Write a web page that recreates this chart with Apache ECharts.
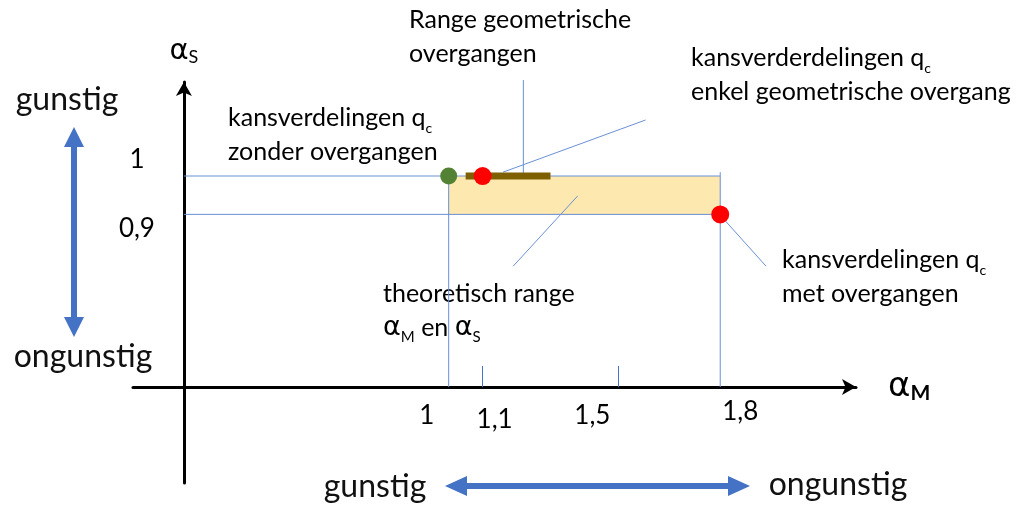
<!DOCTYPE html>
<html>
<head>
<meta charset="utf-8">
<title>alpha_M en alpha_S</title>
<script src="https://cdn.jsdelivr.net/npm/echarts@6/dist/echarts.min.js"></script>
<style>
html, body { margin: 0; padding: 0; background: #fff; }
#chart { width: 1018px; height: 506px; }
</style>
</head>
<body>
<div id="chart"></div>
<script>
// tick values on both axes
const xTicks = [1, 1.1, 1.5, 1.8];
const xInnerTicks = [1.1, 1.5];
const yTicks = [0.9, 1];

// theoretisch range alpha_M en alpha_S
const alphaMRange = [1, 1.8];
const alphaSRange = [0.9, 1];

// range geometrische overgangen (bij alpha_S = 1)
const geomRange = [1.05, 1.3];

// punten
const zonderOvergangen = [[1, 1]];
const enkelGeometrisch = [[1.1, 1]];
const metOvergangen = [[1.8, 0.9]];

// verbindingslijnen naar de teksten
const leaderRange = [[1.22, 1.25], [1.22, 1]];
const leaderEnkel = [[1.16, 1.01], [1.58, 1.146]];
const leaderTheor = [[1.38, 0.948], [1.19, 0.765]];
const leaderMet = [[1.805, 0.893], [1.935, 0.765]];

// schematic axis extents and where the axes cross
const xMin = 0.07, xMax = 2.2, yMin = 0.2, yMax = 1.245;
const crossX = 0.22, crossY = 0.45;

const W = 1018, H = 506;
const gridL = 133, gridR = 162, gridT = 82, gridB = 23;
const gridW = W - gridL - gridR, gridH = H - gridT - gridB;

const blue = '#4472C4';
const thin = '#6A8FD4';
const txt = '#111';
const font = 'Lato';
const greek = 'DejaVu Sans';

const comma = v => String(v).replace('.', ',');

const guides = [
  [[crossX, alphaSRange[1]], [alphaMRange[1], alphaSRange[1]]],
  [[crossX, alphaSRange[0]], [alphaMRange[1], alphaSRange[0]]],
  [[alphaMRange[0], crossY], [alphaMRange[0], alphaSRange[1]]],
  [[alphaMRange[1], crossY], [alphaMRange[1], alphaSRange[1] + 0.01]]
];
const leaders = [leaderRange, leaderEnkel, leaderTheor, leaderMet];

function lineSeries(data, color, width, z) {
  return {
    type: 'line', data: data, symbol: 'none', silent: true, clip: false, z: z,
    lineStyle: { color: color, width: width, cap: 'butt' }
  };
}

function dblArrow(x1, y1, x2, y2, shaft, headW, headL) {
  // double headed arrow polygon, horizontal or vertical
  if (y1 === y2) {
    const y = y1;
    return [[x1, y], [x1 + headL, y - headW / 2], [x1 + headL, y - shaft / 2], [x2 - headL, y - shaft / 2],
      [x2 - headL, y - headW / 2], [x2, y], [x2 - headL, y + headW / 2], [x2 - headL, y + shaft / 2],
      [x1 + headL, y + shaft / 2], [x1 + headL, y + headW / 2]];
  }
  const x = x1;
  return [[x, y1], [x + headW / 2, y1 + headL], [x + shaft / 2, y1 + headL], [x + shaft / 2, y2 - headL],
    [x + headW / 2, y2 - headL], [x, y2], [x - headW / 2, y2 - headL], [x - shaft / 2, y2 - headL],
    [x - shaft / 2, y1 + headL], [x - headW / 2, y1 + headL]];
}

const annRich = {
  t: { fontSize: 25, fontFamily: font, color: txt, lineHeight: 34 },
  s: { fontSize: 14, fontFamily: font, color: txt, lineHeight: 14, verticalAlign: 'bottom' },
  a: { fontSize: 27, fontFamily: greek, color: txt, lineHeight: 34 },
  m: { fontSize: 15, fontFamily: font, color: txt, lineHeight: 14, verticalAlign: 'bottom' }
};

function annotation(x, firstY, text) {
  return {
    type: 'text', x: x, y: firstY - 17, silent: true,
    style: { text: text, rich: annRich, align: 'left', verticalAlign: 'top' }
  };
}

function bigText(cx, cy, text) {
  return {
    type: 'text', x: cx, y: cy, silent: true,
    style: { text: text, fontSize: 32, fontFamily: font, fill: txt, align: 'center', verticalAlign: 'middle' }
  };
}

const chart = echarts.init(document.getElementById('chart'));

chart.setOption({
  animation: false,
  grid: { left: gridL, right: gridR, top: gridT, bottom: gridB, containLabel: false },
  xAxis: {
    type: 'value', min: xMin, max: xMax,
    offset: -((crossY - yMin) / (yMax - yMin)) * gridH,
    name: '{a|α}{m|M}', nameLocation: 'end', nameGap: 32,
    nameTextStyle: {
      rich: {
        a: { fontSize: 34, fontFamily: greek, color: '#000', lineHeight: 34 },
        m: { fontSize: 21, fontFamily: font, fontWeight: 'bold', color: '#000', lineHeight: 18, verticalAlign: 'bottom' }
      }
    },
    axisLine: {
      onZero: false, symbol: ['none', 'arrow'], symbolSize: [12, 14],
      lineStyle: { color: '#000', width: 3 }
    },
    axisTick: { show: true, inside: true, length: 21, customValues: xInnerTicks, lineStyle: { color: blue, width: 1 } },
    axisLabel: {
      customValues: xTicks, margin: 12, color: '#000', fontSize: 26, fontFamily: font,
      formatter: v => {
        const i = xTicks.findIndex(t => Math.abs(t - v) < 1e-9);
        return '{x' + i + '|' + comma(v) + '}';
      },
      rich: {
        x0: { fontSize: 26, fontFamily: font, color: '#000', padding: [4, 44, 0, 0] },
        x1: { fontSize: 26, fontFamily: font, color: '#000', padding: [8, 0, 0, 24] },
        x2: { fontSize: 26, fontFamily: font, color: '#000', padding: [4, 52, 0, 0] },
        x3: { fontSize: 26, fontFamily: font, color: '#000', padding: [0, 0, 0, 40] }
      }
    },
    splitLine: { show: false }
  },
  yAxis: {
    type: 'value', min: yMin, max: yMax,
    offset: -((crossX - xMin) / (xMax - xMin)) * gridW,
    name: '{a|α}{s|S}', nameLocation: 'end', nameGap: 16,
    nameTextStyle: {
      rich: {
        a: { fontSize: 29, fontFamily: greek, color: '#000', lineHeight: 30 },
        s: { fontSize: 18, fontFamily: font, color: '#000', lineHeight: 16, verticalAlign: 'bottom' }
      }
    },
    axisLine: {
      onZero: false, symbol: ['none', 'arrow'], symbolSize: [12, 14],
      lineStyle: { color: '#000', width: 3 }
    },
    axisTick: { show: false },
    axisLabel: {
      customValues: yTicks, margin: 47, align: 'center', color: '#000', fontSize: 26, fontFamily: font,
      formatter: v => (v < 0.95 ? '{y0|' + comma(v) + '}' : '{y1|' + comma(v) + '}'),
      rich: {
        y0: { fontSize: 26, fontFamily: font, color: '#000', padding: [28, 0, 0, 0] },
        y1: { fontSize: 26, fontFamily: font, color: '#000', padding: [0, 0, 32, 0] }
      }
    },
    splitLine: { show: false }
  },
  series: [
    Object.assign(lineSeries(guides[0], thin, 1, 2), {
      markArea: {
        silent: true,
        itemStyle: { color: '#FDE8B0' },
        data: [[{ coord: [alphaMRange[0], alphaSRange[1]] }, { coord: [alphaMRange[1], alphaSRange[0]] }]]
      }
    }),
    lineSeries(guides[1], thin, 1, 2),
    lineSeries(guides[2], thin, 1, 2),
    lineSeries(guides[3], thin, 1, 2),
    ...leaders.map(l => lineSeries(l, thin, 1, 2)),
    {
      type: 'scatter', data: zonderOvergangen, symbolSize: 17, z: 4, silent: true,
      itemStyle: { color: '#548235', opacity: 1 }
    },
    lineSeries([[geomRange[0], 1], [geomRange[1], 1]], '#7F6000', 7, 5),
    {
      type: 'scatter', data: enkelGeometrisch.concat(metOvergangen), symbolSize: 18, z: 6, silent: true,
      itemStyle: { color: '#FF0000', opacity: 1 }
    }
  ],
  graphic: [
    annotation(409, 20, '{t|Range geometrische}\n{t|overgangen}'),
    annotation(691, 58, '{t|kansverderdelingen q}{s|c}\n{t|enkel geometrische overgang}'),
    annotation(228, 118, '{t|kansverdelingen q}{s|c}\n{t|zonder overgangen}'),
    annotation(383, 294, '{t|theoretisch range}\n{a|α}{m|M}{t| en }{a|α}{m|S}'),
    annotation(782, 260, '{t|kansverdelingen q}{s|c}\n{t|met overgangen}'),
    bigText(67, 100, 'gunstig'),
    bigText(83, 357, 'ongunstig'),
    bigText(375, 487, 'gunstig'),
    bigText(838, 485, 'ongunstig'),
    { type: 'polygon', silent: true, shape: { points: dblArrow(74, 127, 74, 337, 6, 20, 20) }, style: { fill: blue } },
    { type: 'polygon', silent: true, shape: { points: dblArrow(445, 486, 750, 486, 6, 20, 22) }, style: { fill: blue } }
  ]
});
</script>
</body>
</html>
